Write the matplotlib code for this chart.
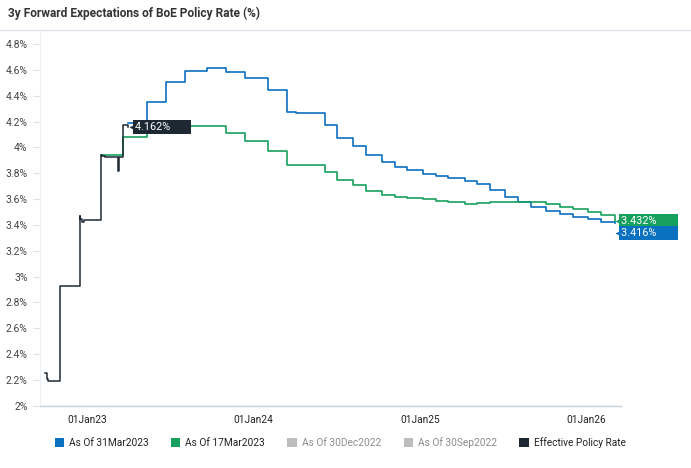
import matplotlib
matplotlib.use("Agg")
import matplotlib.pyplot as plt
import matplotlib.dates as mdates
import matplotlib.transforms as mtransforms
from matplotlib.patches import Rectangle
import pandas as pd

plt.rcParams['font.family'] = ['Roboto', 'DejaVu Sans']

# ---------------- data ----------------
title = "3y Forward Expectations of BoE Policy Rate (%)"

eff_dates = ["2022-09-30", "2022-10-03", "2022-10-05", "2022-11-01", "2022-11-07",
             "2022-12-14", "2022-12-16", "2022-12-20", "2022-12-23", "2023-01-30",
             "2023-02-02", "2023-02-07", "2023-03-09", "2023-03-10", "2023-03-20",
             "2023-03-31"]
eff_vals = [2.25, 2.205, 2.19, 2.93, 2.925,
            3.47, 3.445, 3.425, 3.435, 3.945,
            3.935, 3.93, 3.82, 3.93, 4.172,
            4.162]

mar31_dates = ["2023-03-31", "2023-05-11", "2023-06-22", "2023-08-03", "2023-09-21",
               "2023-11-02", "2023-12-14", "2024-02-01", "2024-03-14", "2024-04-03",
               "2024-06-06", "2024-07-03", "2024-08-07", "2024-09-04", "2024-10-10",
               "2024-11-07", "2024-12-04", "2025-01-08", "2025-02-05", "2025-03-04",
               "2025-04-09", "2025-05-07", "2025-06-03", "2025-07-06", "2025-08-04",
               "2025-09-01", "2025-10-06", "2025-11-04", "2025-12-04", "2026-01-06",
               "2026-02-04", "2026-03-05"]
mar31_vals = [4.19, 4.355, 4.505, 4.595, 4.613,
              4.585, 4.536, 4.447, 4.277, 4.265,
              4.172, 4.071, 4.014, 3.942, 3.89,
              3.851, 3.826, 3.797, 3.779, 3.767,
              3.743, 3.717, 3.671, 3.619, 3.578,
              3.541, 3.51, 3.485, 3.464, 3.444,
              3.425, 3.416]

mar17_dates = ["2023-01-31", "2023-03-20", "2023-05-11", "2023-11-02", "2023-12-14",
               "2024-02-01", "2024-03-14", "2024-06-06", "2024-07-03", "2024-08-07",
               "2024-09-04", "2024-10-10", "2024-11-07", "2024-12-04", "2025-01-08",
               "2025-02-05", "2025-03-04", "2025-04-09", "2025-05-07", "2025-06-03",
               "2025-07-06", "2025-08-04", "2025-09-01", "2025-10-06", "2025-11-04",
               "2025-12-04", "2026-01-06", "2026-02-04", "2026-03-05"]
mar17_vals = [3.94, 4.079, 4.163, 4.11, 4.053,
              3.975, 3.864, 3.808, 3.748, 3.71,
              3.665, 3.632, 3.619, 3.611, 3.601,
              3.588, 3.578, 3.565, 3.57, 3.578,
              3.58, 3.58, 3.578, 3.56, 3.541,
              3.521, 3.503, 3.477, 3.432]

label_eff = "4.162%"
label_mar17 = "3.432%"
label_mar31 = "3.416%"

legend_labels = ["As Of 31Mar2023", "As Of 17Mar2023", "As Of 30Dec2022",
                 "As Of 30Sep2022", "Effective Policy Rate"]

y_ticks = [2.0, 2.2, 2.4, 2.6, 2.8, 3.0, 3.2, 3.4, 3.6, 3.8, 4.0, 4.2, 4.4, 4.6, 4.8]
x_ticks = ["2023-01-01", "2024-01-01", "2025-01-01", "2026-01-01"]

# ---------------- style ----------------
C_BLUE = "#0a70c0"
C_GREEN = "#16a05e"
C_DARK = "#1e2833"
C_GREY = "#bdbdbd"

W, H = 691, 468
fig = plt.figure(figsize=(W / 100, H / 100), dpi=100)

def fx(px):
    return px / W

def fy(py):
    return 1 - py / H

ax = fig.add_axes([fx(39.5), fy(405.7), fx(621) - fx(39.5), fy(31.3) - fy(405.7)])

d_eff = pd.to_datetime(eff_dates)
d_31 = pd.to_datetime(mar31_dates)
d_17 = pd.to_datetime(mar17_dates)

ax.plot(d_31, mar31_vals, drawstyle="steps-post", color=C_BLUE, lw=1.2, zorder=3)
ax.plot(d_17, mar17_vals, drawstyle="steps-post", color=C_GREEN, lw=1.2, zorder=3)
ax.plot(d_eff, eff_vals, drawstyle="steps-post", color=C_DARK, lw=1.1, zorder=4)

ax.set_xlim(pd.Timestamp("2022-09-17"), pd.Timestamp("2026-03-19"))
ax.set_ylim(2.0, 4.9)

ax.set_yticks(y_ticks)
ax.set_yticklabels([f"{v:g}%" for v in y_ticks])
ax.set_xticks(pd.to_datetime(x_ticks))
ax.xaxis.set_major_formatter(mdates.DateFormatter("%d%b%y"))

ax.tick_params(axis="y", length=5, width=0.8, color="#dfe3e8", labelsize=7.5,
               labelcolor="#444444", pad=3.5)
ax.tick_params(axis="x", length=0, labelsize=7.3, labelcolor="#222222", pad=7)

for s in ["top", "right"]:
    ax.spines[s].set_visible(False)
ax.spines["left"].set_color("#eef0f3")
ax.spines["left"].set_linewidth(0.8)
ax.spines["bottom"].set_color("#c9d1db")
ax.spines["bottom"].set_linewidth(1.0)

# ---------------- end labels ----------------
def end_label(x, y, text, color, dy_px=0):
    tr = mtransforms.offset_copy(ax.transData, fig=fig, x=3.5, y=dy_px, units="dots")
    ax.plot([x], [y], marker="<", ms=5, color=color, mec="none", transform=tr,
            zorder=6, clip_on=False)
    ax.annotate(text + "       ", xy=(x, y), xytext=(6.7 * 0.72, dy_px * 0.72),
                textcoords="offset points", ha="left", va="center",
                fontsize=7.8, color="white", zorder=7, annotation_clip=False,
                bbox=dict(boxstyle="square,pad=0.18", fc=color, ec="none"))

end_label(d_eff[-1], eff_vals[-1], label_eff, C_DARK)
end_label(d_17[-1], mar17_vals[-1], label_mar17, C_GREEN)
end_label(d_31[-1], mar31_vals[-1], label_mar31, C_BLUE, dy_px=-10)

# ---------------- title & separator ----------------
fig.text(fx(8), fy(13), title, fontsize=8.6, fontweight="bold", color="#333333",
         ha="left", va="center")
fig.add_artist(plt.Line2D([0, 1], [fy(30), fy(30)], color="#dde2e8", lw=1.0,
                          transform=fig.transFigure))

# ---------------- legend ----------------
leg_x = [55, 171, 287.3, 403.8, 519.2]
leg_colors = [C_BLUE, C_GREEN, C_GREY, C_GREY, C_DARK]
leg_text_colors = ["#222222", "#222222", "#8c8c8c", "#8c8c8c", "#222222"]
for lx, lab, c, tc in zip(leg_x, legend_labels, leg_colors, leg_text_colors):
    fig.add_artist(Rectangle((fx(lx), fy(447.3)), fx(9.3), fy(438) - fy(447.3),
                             transform=fig.transFigure, fc=c, ec="none"))
    fig.text(fx(lx + 14.3), fy(442.7), lab, fontsize=7.3, color=tc,
             ha="left", va="center")

fig.savefig("out.png", dpi=100)
